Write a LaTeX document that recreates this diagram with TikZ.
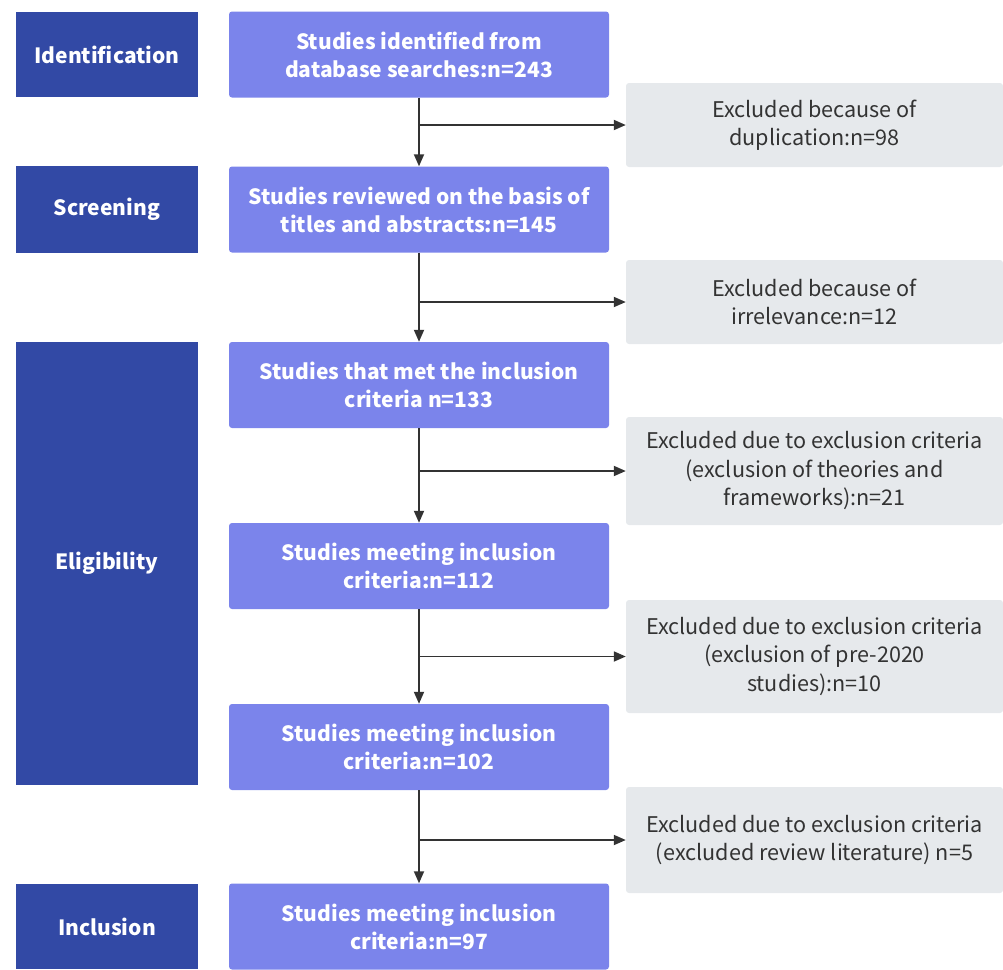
\documentclass[tikz,border=0pt]{standalone}
\usepackage{fontspec}
\setmainfont{Noto Sans CJK SC}
\usetikzlibrary{arrows.meta}
\definecolor{navy}{HTML}{3249A5}
\definecolor{lav}{HTML}{7B84EB}
\definecolor{pale}{HTML}{E6E9EC}
\definecolor{ink}{HTML}{333333}
\tikzset{
  phase/.style={fill=navy, text=white, font=\fontsize{21}{28}\selectfont\bfseries, align=center, inner sep=0pt},
  stage/.style={fill=lav, rounded corners=3pt, text=white, font=\fontsize{21}{28}\selectfont\bfseries, align=center, inner sep=0pt, minimum width=380pt, minimum height=86pt},
  excl/.style={fill=pale, rounded corners=3pt, text=ink, font=\fontsize{21.6}{28.5}\selectfont, align=center, inner sep=0pt, minimum width=377pt},
  flow/.style={draw=ink, line width=1.8pt, -{Triangle[length=12pt,width=10pt]}}
}
\begin{document}
\begin{tikzpicture}[x=1pt,y=-1pt]
\useasboundingbox (0,0) rectangle (1003,969);
% phase labels
\node[phase, minimum width=182pt, minimum height=85pt] (L1) at (107,54.5) {Identification};
\node[phase, minimum width=182pt, minimum height=87pt] (L2) at (107,209.5) {Screening};
\node[phase, minimum width=182pt, minimum height=443pt] (L3) at (107,563.5) {Eligibility};
\node[phase, minimum width=182pt, minimum height=85pt] (L4) at (107,926.5) {Inclusion};
% stages
\node[stage] (M1) at (419,54.5) {Studies identified from\\database searches:n=243};
\node[stage] (M2) at (419,209.5) {Studies reviewed on the basis of\\titles and abstracts:n=145};
\node[stage] (M3) at (419,385) {Studies that met the inclusion\\criteria n=133};
\node[stage] (M4) at (419,566) {Studies meeting inclusion\\criteria:n=112};
\node[stage] (M5) at (419,747) {Studies meeting inclusion\\criteria:n=102};
\node[stage] (M6) at (419,926.5) {Studies meeting inclusion\\criteria:n=97};
% exclusions
\node[excl, minimum height=84pt] (R1) at (814.5,125) {Excluded because of\\duplication:n=98};
\node[excl, minimum height=84pt] (R2) at (814.5,302) {Excluded because of\\irrelevance:n=12};
\node[excl, minimum height=108pt] (R3) at (814.5,471) {Excluded due to exclusion criteria\\(exclusion of theories and\\frameworks):n=21};
\node[excl, minimum height=113pt] (R4) at (814.5,656.5) {Excluded due to exclusion criteria\\(exclusion of pre-2020\\studies):n=10};
\node[excl, minimum height=106pt] (R5) at (814.5,840) {Excluded due to exclusion criteria\\(excluded review literature) n=5};
% connectors
\foreach \a/\b/\r in {M1/M2/R1, M2/M3/R2, M3/M4/R3, M4/M5/R4, M5/M6/R5}{
  \draw[flow] (\a.south) -- (\b.north);
  \coordinate (J\r) at (\a.south |- \r.west);
  \draw[flow] (J\r) -- (\r.west);
}
\end{tikzpicture}
\end{document}
